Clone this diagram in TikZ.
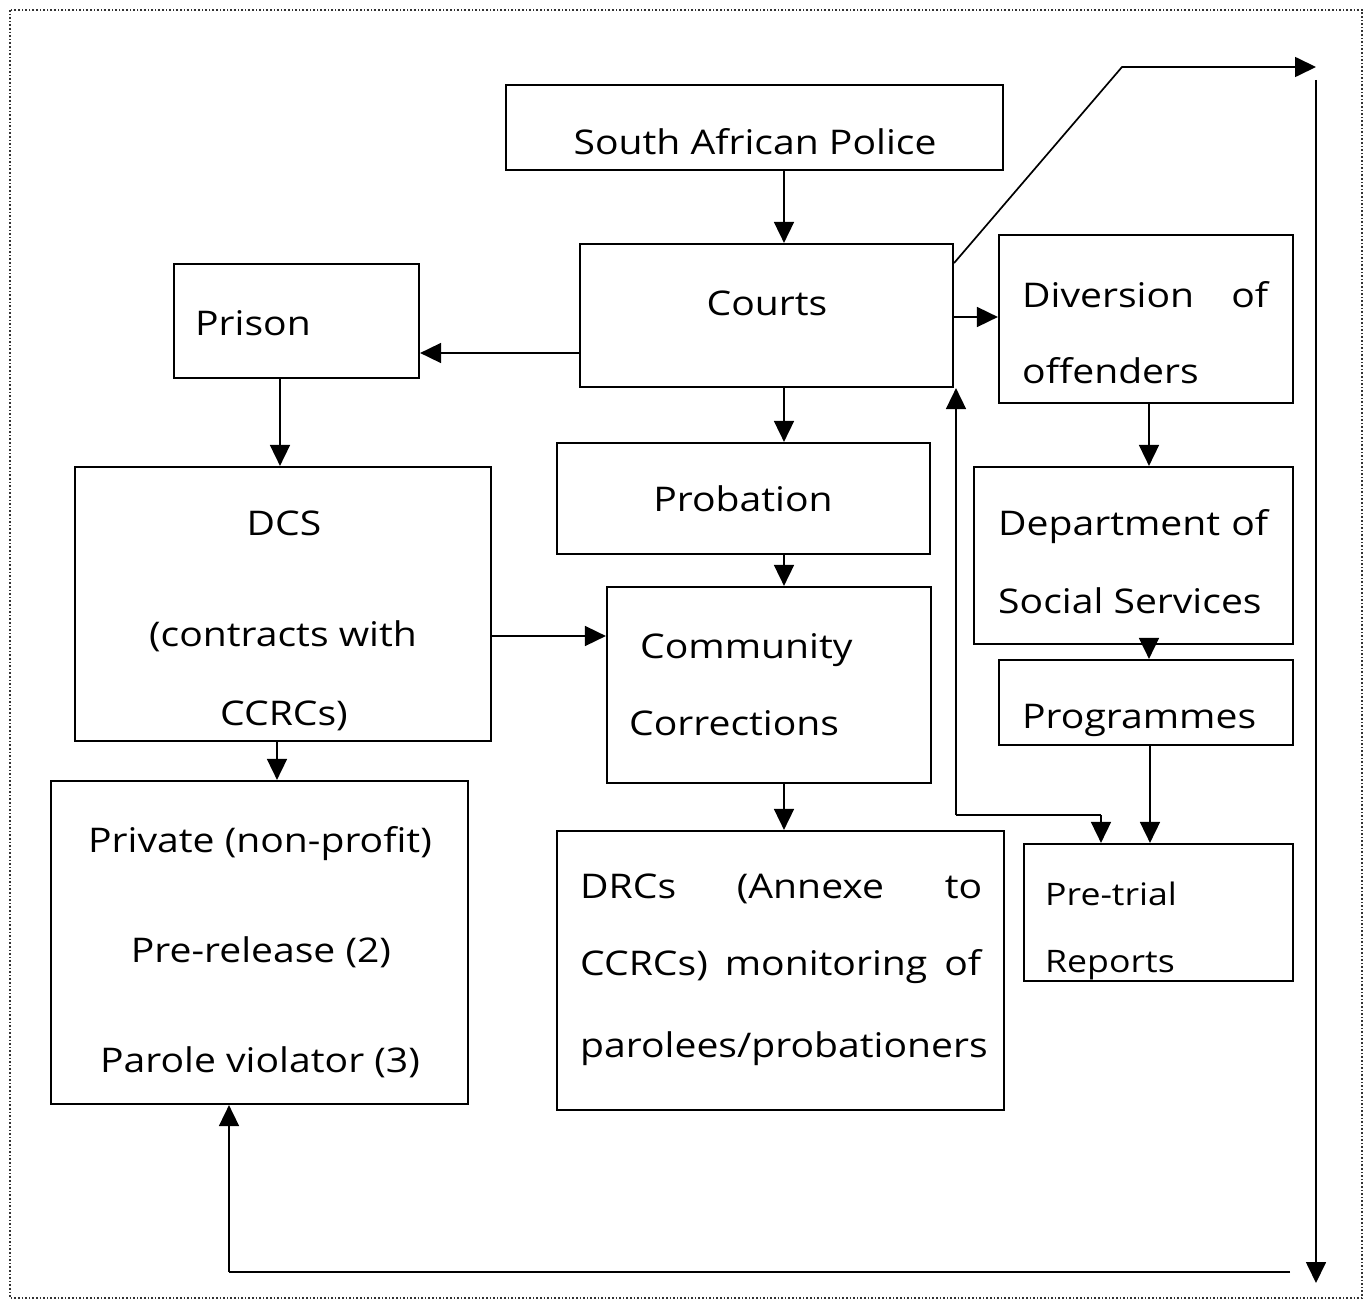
\documentclass[tikz,border=0pt]{standalone}
\usepackage{fontspec}
\setmainfont[FakeStretch=1.15]{Open Sans}
\usetikzlibrary{arrows.meta,fit}
\tikzset{
  box/.style={draw, line width=2.2pt, inner sep=0pt},
  link/.style={line width=1.7pt, -{Triangle[length=21pt,width=20pt]}},
  plain/.style={line width=1.7pt},
  txt/.style={inner sep=0pt, font=\fontsize{34}{40}\selectfont},
  small/.style={inner sep=0pt, font=\fontsize{31}{36}\selectfont},
}
\begin{document}
\begin{tikzpicture}[x=1pt,y=-1pt]
\useasboundingbox (0,0) rectangle (1366,1303);
% outer frame
\draw[dotted, line width=1.6pt, black!80] (10,10) rectangle (1362,1298);

% boxes
\node[box, fit={(506,85) (1003,170)}] (sap) {};
\node[box, fit={(580,244) (953,387)}] (courts) {};
\node[box, fit={(174,264) (419,378)}] (prison) {};
\node[box, fit={(999,235) (1293,403)}] (div) {};
\node[box, fit={(75,467) (491,741)}] (dcs) {};
\node[box, fit={(557,443) (930,554)}] (prob) {};
\node[box, fit={(974,467) (1293,644)}] (dss) {};
\node[box, fit={(999,660) (1293,745)}] (prog) {};
\node[box, fit={(607,587) (931,783)}] (cc) {};
\node[box, fit={(51,781) (468,1104)}] (priv) {};
\node[box, fit={(557,831) (1004,1110)}] (drc) {};
\node[box, fit={(1024,844) (1293,981)}] (pre) {};

% texts
\node[txt, anchor=base] (tsap) at (755,155) {South African Police};
\node[txt, anchor=base] (tcourts) at (767,315) {Courts};
\node[txt, anchor=base west] (tprison) at (195,335) {Prison};
\node[txt, anchor=base west] (tdiv1) at (1022,307) {\makebox[246pt][l]{Diversion\hfill of}};
\node[txt, anchor=base west] (tdiv2) at (1022,383) {offenders};
\node[txt, anchor=base west] (tdss1) at (998,535) {\makebox[270pt][l]{Department\hfill of}};
\node[txt, anchor=base west] (tdss2) at (998,613) {Social Services};
\node[txt, anchor=base west] (tprog) at (1022,728) {Programmes};
\node[small, anchor=base west] (tpre1) at (1045,905) {Pre-trial};
\node[small, anchor=base west] (tpre2) at (1045,972) {Reports};
\node[txt, anchor=base] (tdcs1) at (284,535) {DCS};
\node[txt, anchor=base] (tdcs2) at (283,646) {(contracts with};
\node[txt, anchor=base] (tdcs3) at (284,725) {CCRCs)};
\node[txt, anchor=base] (tprob) at (743,511) {Probation};
\node[txt, anchor=base west] (tcc1) at (640,658) {Community};
\node[txt, anchor=base west] (tcc2) at (629,735) {Corrections};
\node[txt, anchor=base] (tpriv1) at (260,852) {Private (non-profit)};
\node[txt, anchor=base] (tpriv2) at (261,962) {Pre-release (2)};
\node[txt, anchor=base] (tpriv3) at (260,1072) {Parole violator (3)};
\node[txt, anchor=base west] (tdrc1) at (580,898) {\makebox[402pt][l]{DRCs\hfill(Annexe\hfill to}};
\node[txt, anchor=base west] (tdrc2) at (580,975) {\makebox[401pt][l]{CCRCs)\hfill monitoring\hfill of}};
\node[txt, anchor=base west] (tdrc3) at (580,1057) {parolees/probationers};

% free ends of the loop lines
\coordinate (bend) at (1122,67);
\coordinate (toptip) at (1316,67);
\coordinate (rtop) at (1316,80);
\coordinate (rbot) at (1316,1283);
\coordinate (bstart) at (1290,1272);
\coordinate (bcorner) at (229,1272);
\coordinate (ustart) at (956,815);
\coordinate (ucorner) at (1101,815);

% connectors
\draw[link] (sap.south -| 784,0) -- (courts.north -| 784,0);
\draw[link] (courts.west |- 0,353) -- (prison.east |- 0,353);
\draw[link] (courts.east |- 0,317) -- (div.west |- 0,317);
\draw[link] (courts.south -| 784,0) -- (prob.north -| 784,0);
\draw[link] (courts.east |- 0,263) -- (bend) -- (toptip);
\draw[link] (rtop) -- (rbot);
\draw[plain] (bstart) -- (bcorner);
\draw[link] (bcorner) -- (priv.south -| bcorner);
\draw[link] (prison.south -| 280,0) -- (dcs.north -| 280,0);
\draw[link] (dcs.east |- 0,636) -- (cc.west |- 0,636);
\draw[link] (dcs.south -| 277,0) -- (priv.north -| 277,0);
\draw[link] (prob.south -| 784,0) -- (cc.north -| 784,0);
\draw[link] (cc.south -| 784,0) -- (drc.north -| 784,0);
\draw[link] (div.south -| 1149,0) -- (dss.north -| 1149,0);
\draw[link] (dss.south -| 1149,0) -- (prog.north -| 1149,0);
\draw[link] (prog.south -| 1150,0) -- (pre.north -| 1150,0);
\draw[link] (ustart) -- (courts.south -| ustart);
\draw[plain] (ustart) -- (ucorner);
\draw[link] (ucorner) -- (pre.north -| ucorner);
\end{tikzpicture}
\end{document}
